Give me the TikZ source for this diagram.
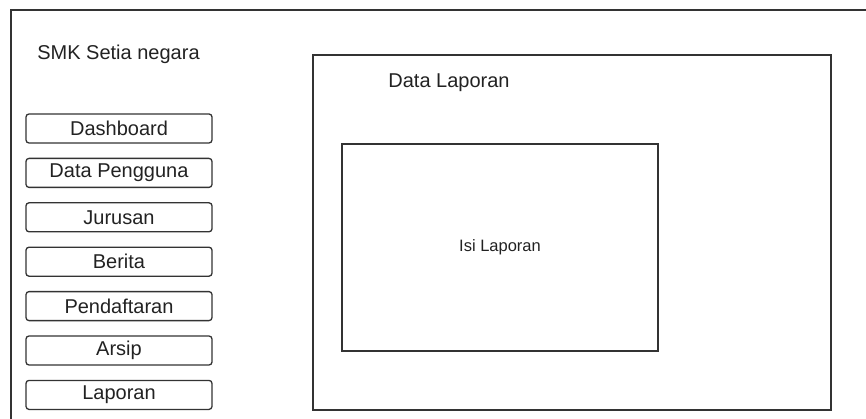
\documentclass[tikz,border=0pt]{standalone}
\usepackage{fontspec}
\setmainfont{Liberation Sans}
\usetikzlibrary{positioning}
\definecolor{linegray}{HTML}{333333}
\definecolor{textgray}{HTML}{222222}
\tikzset {
  x=1pt, y=-1pt,
  node distance={44.4pt},
  % menu buttons on the left
  menu/.style = {draw=linegray, line width=1.3pt, rounded corners=3pt, minimum width=186pt,
    minimum height=29pt, inner sep=0pt, text=textgray, font=\fontsize{20}{23}\selectfont},
  % plain boxes
  panel/.style = {draw=linegray, line width=1.5pt, inner sep=0pt},
  label/.style = {text=textgray, inner sep=0pt, font=\fontsize{20}{23}\selectfont},
}
\begin{document}
\begin{tikzpicture}
        \useasboundingbox (0,0) rectangle (866,419);
        \clip (0,0) rectangle (866,419);
        \draw[linegray, line width=1.5pt] (11,10) rectangle (890,440);

        \node[label] (smk) at (118.5,54) {SMK Setia negara};

        \node[menu] (dash) at (119,128.5) {Dashboard};
        \node[menu] (user) [below of=dash] {Data Pengguna};
        \node[menu] (jur) [below of=user] {Jurusan};
        \node[menu] (berita) [below of=jur] {Berita};
        \node[menu] (daftar) [below of=berita] {Pendaftaran};
        \node[menu] (arsip) [below of=daftar] {Arsip};
        \node[menu] (lapor) [below of=arsip] {Laporan};

        \node[panel, minimum width=518pt, minimum height=355pt] (main) at (572,232.5) {};
        \node[label] (judul) at (449,83) {Data Laporan};
        \node[panel, minimum width=316pt, minimum height=207pt, text=textgray,
          font=\fontsize{16.5}{19}\selectfont] (isi) at (500,247.5) {Isi Laporan};
      \end{tikzpicture}
\end{document}
